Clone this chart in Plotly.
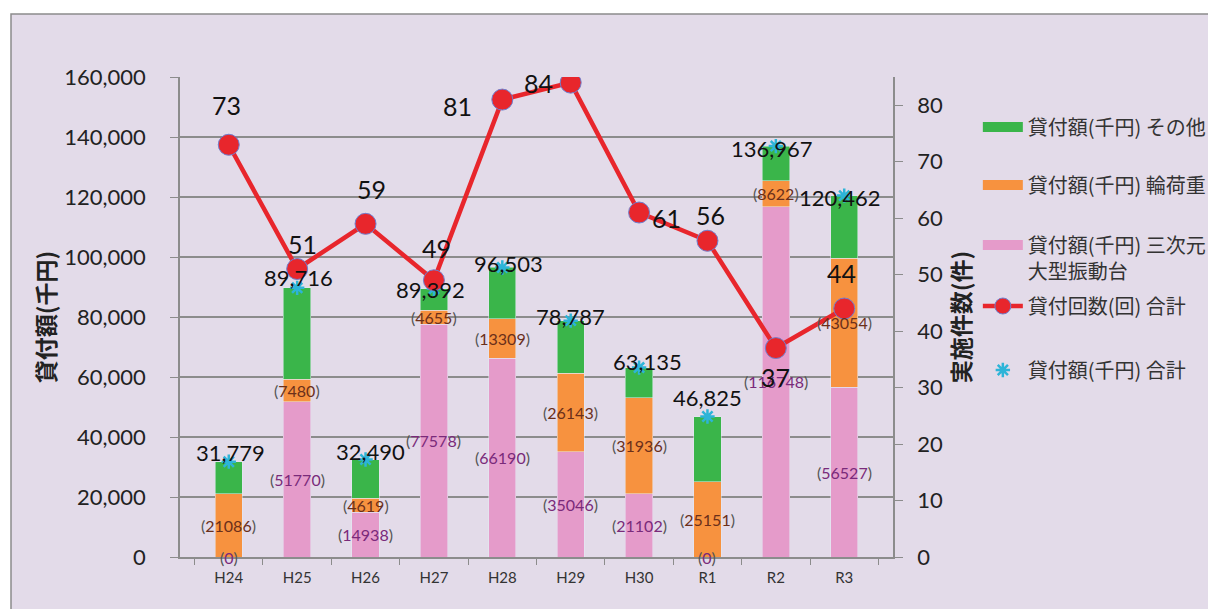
import plotly.graph_objects as go

# ---------------- data ----------------
categories = ["H24", "H25", "H26", "H27", "H28", "H29", "H30", "R1", "R2", "R3"]
shindo_vals = [0, 51770, 14938, 77578, 66190, 35046, 21102, 0, 116748, 56527]      # 三次元大型振動台
rinkaju_vals = [21086, 7480, 4619, 4655, 13309, 26143, 31936, 25151, 8622, 43054]  # 輪荷重
sonota_vals = [10693, 30466, 12933, 7159, 17004, 17598, 10097, 21674, 11597, 20881]  # その他
total_vals = [31779, 89716, 32490, 89392, 96503, 78787, 63135, 46825, 136967, 120462]
count_vals = [73, 51, 59, 49, 81, 84, 61, 56, 37, 44]

name_sonota = "貸付額(千円) その他"
name_rinkaju = "貸付額(千円) 輪荷重"
name_shindo = "貸付額(千円) 三次元<br>大型振動台"
name_count = "貸付回数(回) 合計"
name_total = "貸付額(千円) 合計"

# ---------------- styles ----------------
C_PINK = "#E59BCA"
C_ORANGE = "#F7923F"
C_GREEN = "#3AB54A"
C_RED = "#E8262C"
C_CYAN = "#2DB4D8"
C_GRID = "#8C8C8C"
C_BG = "#E3DBE9"
NUM_FONT = "Lato, 'Noto Sans CJK JP', sans-serif"
JP_FONT = "'Noto Sans CJK JP', sans-serif"

# label offsets in pixels (dx, dy), chosen to mimic the reference layout
total_shift = [(2, 9), (1, 10), (5, 8), (-3, -1), (6, 4), (0, 4), (8, 6), (0, 19), (-4, -2), (-4, -2)]
count_shift = [(-2, 40), (5, 25), (6, 35), (3, 32), (-45, -6), (-32, 0), (27, -5), (3, 26), (0, -29), (-3, 36)]

fig = go.Figure()

fig.add_trace(go.Bar(x=categories, y=shindo_vals, name=name_shindo, marker_color=C_PINK,
                     width=0.4, showlegend=False, legendgroup="shindo", hoverinfo="y"))
fig.add_trace(go.Bar(x=categories, y=rinkaju_vals, name=name_rinkaju, marker_color=C_ORANGE,
                     width=0.4, showlegend=False, legendgroup="rinkaju", hoverinfo="y"))
fig.add_trace(go.Bar(x=categories, y=sonota_vals, name=name_sonota, marker_color=C_GREEN,
                     width=0.4, showlegend=False, legendgroup="sonota", hoverinfo="y"))

fig.add_trace(go.Scatter(x=categories, y=total_vals, name=name_total, mode="markers",
                         marker=dict(symbol="asterisk-open", size=12, color=C_CYAN,
                                     line=dict(color=C_CYAN, width=2.5)),
                         legend="legend5"))

fig.add_trace(go.Scatter(x=categories, y=count_vals, name=name_count, yaxis="y2",
                         mode="lines+markers",
                         line=dict(color=C_RED, width=4.5),
                         marker=dict(symbol="circle", size=21, color=C_RED,
                                     line=dict(color="#6F7FCF", width=1)),
                         legend="legend4"))

# legend swatches for the stacked bars (wide colour bars like the reference)
for nm, col, grp, lg in [(name_sonota, C_GREEN, "sonota", "legend"),
                         (name_rinkaju, C_ORANGE, "rinkaju", "legend2"),
                         (name_shindo, C_PINK, "shindo", "legend3")]:
    fig.add_trace(go.Scatter(x=[None], y=[None], name=nm, mode="lines",
                             line=dict(color=col, width=12), legendgroup=grp,
                             legend=lg, hoverinfo="skip"))

annotations = []
# segment labels
for i, c in enumerate(categories):
    segs = [(shindo_vals[i], 0, "#7A2A7A"),
            (rinkaju_vals[i], shindo_vals[i], "#6B2F1A")]
    for v, base, dcol in segs:
        annotations.append(dict(
            x=c, y=base + v / 2, xref="x", yref="y", showarrow=False,
            text=f"(<span style='color:{dcol}'>{v}</span>)",
            font=dict(family=NUM_FONT, size=16, color="#555555")))
# total labels
for i, c in enumerate(categories):
    dx, dy = total_shift[i]
    annotations.append(dict(
        x=c, y=total_vals[i], xref="x", yref="y", showarrow=False,
        text=f"{total_vals[i]:,}", xshift=dx, yshift=dy,
        font=dict(family=NUM_FONT, size=22, color="#111111")))
# count labels
for i, c in enumerate(categories):
    dx, dy = count_shift[i]
    annotations.append(dict(
        x=c, y=count_vals[i], xref="x", yref="y2", showarrow=False,
        text=f"{count_vals[i]}", xshift=dx, yshift=dy,
        font=dict(family=NUM_FONT, size=25, color="#111111")))

legend_common = dict(x=1.119, xanchor="left", yanchor="middle", bgcolor="rgba(0,0,0,0)",
                     font=dict(family=JP_FONT, size=20, color="#333333"),
                     itemwidth=40, valign="top", itemclick=False, itemdoubleclick=False)

fig.update_layout(
    width=1208, height=609,
    margin=dict(l=180, r=315, t=77, b=52, autoexpand=False),
    paper_bgcolor="white",
    plot_bgcolor="white",
    barmode="stack",
    bargap=0.6,
    showlegend=True,
    legend=dict(legend_common, y=(557 - 127) / 480),
    legend2=dict(legend_common, y=(557 - 185) / 480),
    legend3=dict(legend_common, y=(557 - 258) / 480),
    legend4=dict(legend_common, y=(557 - 306) / 480),
    legend5=dict(legend_common, y=(557 - 370) / 480),
    xaxis=dict(type="category", tickson="boundaries", ticks="outside", ticklen=6,
               tickcolor=C_GRID, showline=True, linecolor=C_GRID, linewidth=1.5,
               showgrid=False, ticklabelstandoff=6,
               tickfont=dict(family=NUM_FONT, size=15, color="#333333")),
    yaxis=dict(range=[0, 160000], dtick=20000, tickformat=",d", showgrid=True,
               gridcolor=C_GRID, gridwidth=1.5, zeroline=False, showline=True,
               linecolor=C_GRID, linewidth=1.5, ticks="outside", ticklen=8, tickcolor=C_GRID,
               tickfont=dict(family=NUM_FONT, size=22, color="#222222"),
               ticklabelstandoff=20,
               title=dict(text="<b>貸付額(千円)</b>", standoff=2,
                          font=dict(family=JP_FONT, size=23, color="#222222"))),
    yaxis2=dict(overlaying="y", side="right", range=[0, 85], dtick=10, showgrid=False,
                zeroline=False, showline=True, linecolor=C_GRID, linewidth=1.5,
                ticks="outside", ticklen=8, tickcolor=C_GRID,
                tickfont=dict(family=NUM_FONT, size=22, color="#222222"),
                ticklabelstandoff=10,
                title=dict(text="<b>実施件数(件)</b>", standoff=0,
                           font=dict(family=JP_FONT, size=23, color="#222222"))),
    annotations=annotations,
    shapes=[dict(type="rect", xref="paper", yref="paper",
                 x0=(11 - 180) / 713, x1=(1230 - 180) / 713,
                 y0=(557 - 630) / 480, y1=(557 - 14) / 480,
                 fillcolor=C_BG, line=dict(color=C_GRID, width=1.5), layer="below")],
)

# remove the browser's default page margin so the 1208x609 figure fills the window
fig.write_html("out.html",
               config={"displayModeBar": False},
               post_script="document.body.style.margin='0';document.body.style.overflow='hidden';")
